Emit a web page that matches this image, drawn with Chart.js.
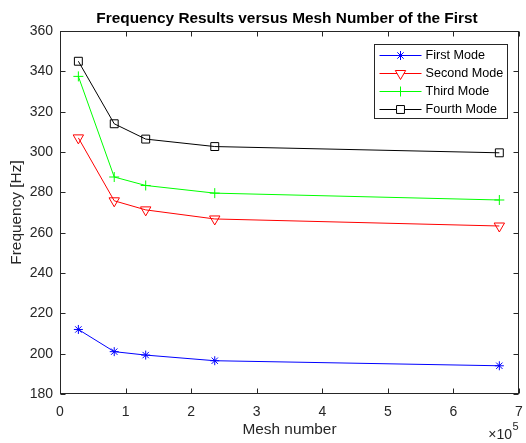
<!DOCTYPE html>
<html><head><meta charset="utf-8">
<script src="https://cdn.jsdelivr.net/npm/chart.js@4/dist/chart.umd.min.js"></script>
<style>html,body{margin:0;padding:0;background:#fff}#wrap{width:526px;height:443px;position:relative}</style>
</head><body><div id="wrap"><canvas id="c" width="526" height="443"></canvas></div>
<script>
// ---- data ----
const meshNumbers = [28000, 82700, 130700, 236000, 670000];
const firstMode  = [212.0, 201.0, 199.3, 196.5, 194.0];
const secondMode = [307.0, 275.8, 271.3, 266.8, 263.3];
const thirdMode  = [337.5, 287.6, 283.4, 279.6, 276.2];
const fourthMode = [345.0, 314.0, 306.4, 302.7, 299.6];
const seriesLabels = ['First Mode', 'Second Mode', 'Third Mode', 'Fourth Mode'];
const xTickValues = [0, 100000, 200000, 300000, 400000, 500000, 600000, 700000];
const yTickValues = [180, 200, 220, 240, 260, 280, 300, 320, 340, 360];
const chartTitle = 'Frequency Results versus Mesh Number of the First';
const xTitle = 'Mesh number';
const yTitle = 'Frequency [Hz]';
const xExponentBase = '\u00d710';
const xExponent = '5';

const FONT = "'Liberation Sans', Arial, Helvetica, sans-serif";
const AXC = '#262626';

function pts(ys) { return meshNumbers.map((x, i) => ({x: x, y: ys[i]})); }

const styles = [
  {color: '#0000ff', pointStyle: 'star', radius: 4.5, rotation: 0},
  {color: '#ff0000', pointStyle: 'triangle', radius: 6, rotation: 180},
  {color: '#00ff00', pointStyle: 'cross', radius: 5, rotation: 0},
  {color: '#000000', pointStyle: 'rect', radius: 5.6, rotation: 0}
];
const allSeries = [firstMode, secondMode, thirdMode, fourthMode];

const datasets = allSeries.map((s, i) => ({
  label: seriesLabels[i],
  data: pts(s),
  borderColor: styles[i].color,
  backgroundColor: 'rgba(0,0,0,0)',
  borderWidth: 1,
  pointStyle: styles[i].pointStyle,
  pointRadius: styles[i].radius,
  pointRotation: styles[i].rotation,
  pointBorderWidth: 1,
  pointBorderColor: styles[i].color,
  pointBackgroundColor: 'rgba(0,0,0,0)',
  tension: 0,
  fill: false
}));

const decorPlugin = {
  id: 'decor',
  afterDatasetsDraw(chart) {
    const ctx = chart.ctx;
    const ca = chart.chartArea;
    const xs = chart.scales.x, ys = chart.scales.y;
    const L = Math.round(ca.left) + 0.5, R = Math.round(ca.right) - 0.5;
    const T = Math.round(ca.top) + 0.5, B = Math.round(ca.bottom) - 0.5;
    ctx.save();
    ctx.strokeStyle = AXC;
    ctx.lineWidth = 1;
    ctx.setLineDash([]);
    ctx.strokeRect(L, T, R - L, B - T);
    const tl = 5;
    ctx.beginPath();
    xs.ticks.forEach(t => {
      const px = Math.round(xs.getPixelForValue(t.value)) + 0.5;
      ctx.moveTo(px, B); ctx.lineTo(px, B - tl);
      ctx.moveTo(px, T); ctx.lineTo(px, T + tl);
    });
    ys.ticks.forEach(t => {
      const py = Math.round(ys.getPixelForValue(t.value)) + 0.5;
      ctx.moveTo(L, py); ctx.lineTo(L + tl, py);
      ctx.moveTo(R, py); ctx.lineTo(R - tl, py);
    });
    ctx.stroke();

    // title
    ctx.fillStyle = '#000';
    ctx.font = 'bold 15.4px ' + FONT;
    ctx.textAlign = 'center';
    ctx.textBaseline = 'middle';
    ctx.fillText(chartTitle, 287, 19);

    // exponent label
    ctx.fillStyle = AXC;
    ctx.font = '14px ' + FONT;
    ctx.textAlign = 'right';
    ctx.textBaseline = 'middle';
    ctx.fillText(xExponentBase, 512, 435);
    ctx.font = '11px ' + FONT;
    ctx.textAlign = 'left';
    ctx.fillText(xExponent, 512.5, 427);

    // legend
    const bx = 374.5, by = Math.round(ca.top) + 13.5;
    const bw = 133, bh = 74;
    ctx.fillStyle = '#fff';
    ctx.fillRect(bx, by, bw, bh);
    ctx.strokeStyle = AXC;
    ctx.strokeRect(bx, by, bw, bh);
    chart.data.datasets.forEach((ds, i) => {
      const cy = by + 10.5 + i * 17.9;
      const yy = Math.round(cy) + 0.5;
      ctx.save();
      ctx.strokeStyle = ds.borderColor;
      ctx.lineWidth = 1;
      ctx.beginPath();
      ctx.moveTo(bx + 5, yy); ctx.lineTo(bx + 47, yy);
      ctx.stroke();
      ctx.fillStyle = '#ffffff';
      ctx.strokeStyle = ds.borderColor;
      if (ds.pointStyle === 'rect' || ds.pointStyle === 'triangle') {
        // unfilled marker with white interior as in reference legend
        ctx.fillStyle = '#ffffff';
      }
      Chart.helpers.drawPoint(ctx, {
        pointStyle: ds.pointStyle, rotation: ds.pointRotation,
        radius: ds.pointRadius, borderWidth: 1
      }, bx + 26, yy);
      ctx.restore();
      ctx.fillStyle = '#000';
      ctx.font = '12.6px ' + FONT;
      ctx.textAlign = 'left';
      ctx.textBaseline = 'middle';
      ctx.fillText(ds.label, bx + 51, cy + 0.5);
    });
    ctx.restore();
  }
};

new Chart(document.getElementById('c'), {
  type: 'line',
  data: {datasets: datasets},
  plugins: [decorPlugin],
  options: {
    responsive: false,
    devicePixelRatio: 1,
    animation: false,
    layout: {padding: {left: 0, right: 6, top: 31, bottom: 0}},
    plugins: {legend: {display: false}, title: {display: false}, tooltip: {enabled: false}},
    scales: {
      x: {
        type: 'linear', min: 0, max: 700000,
        afterBuildTicks: s => { s.ticks = xTickValues.map(v => ({value: v})); },
        afterFit: s => { s.height = 49; s.paddingLeft = 0; s.paddingRight = 0; },
        grid: {display: false, drawTicks: false},
        border: {display: false},
        ticks: {color: AXC, font: {family: FONT, size: 14}, padding: 10, maxRotation: 0,
                callback: v => String(v / 100000)},
        title: {display: true, text: xTitle, color: AXC, font: {family: FONT, size: 15.4}, padding: {top: 0, bottom: 4}}
      },
      y: {
        type: 'linear', min: 180, max: 360,
        afterBuildTicks: s => { s.ticks = yTickValues.map(v => ({value: v})); },
        afterFit: s => { s.width = 60; s.paddingTop = 0; s.paddingBottom = 0; },
        grid: {display: false, drawTicks: false},
        border: {display: false},
        ticks: {color: AXC, font: {family: FONT, size: 14}, padding: 7,
                callback: v => String(v)},
        title: {display: true, text: yTitle, color: AXC, font: {family: FONT, size: 15.4}, padding: {top: 8, bottom: 0}}
      }
    }
  }
});
</script>
</body></html>
